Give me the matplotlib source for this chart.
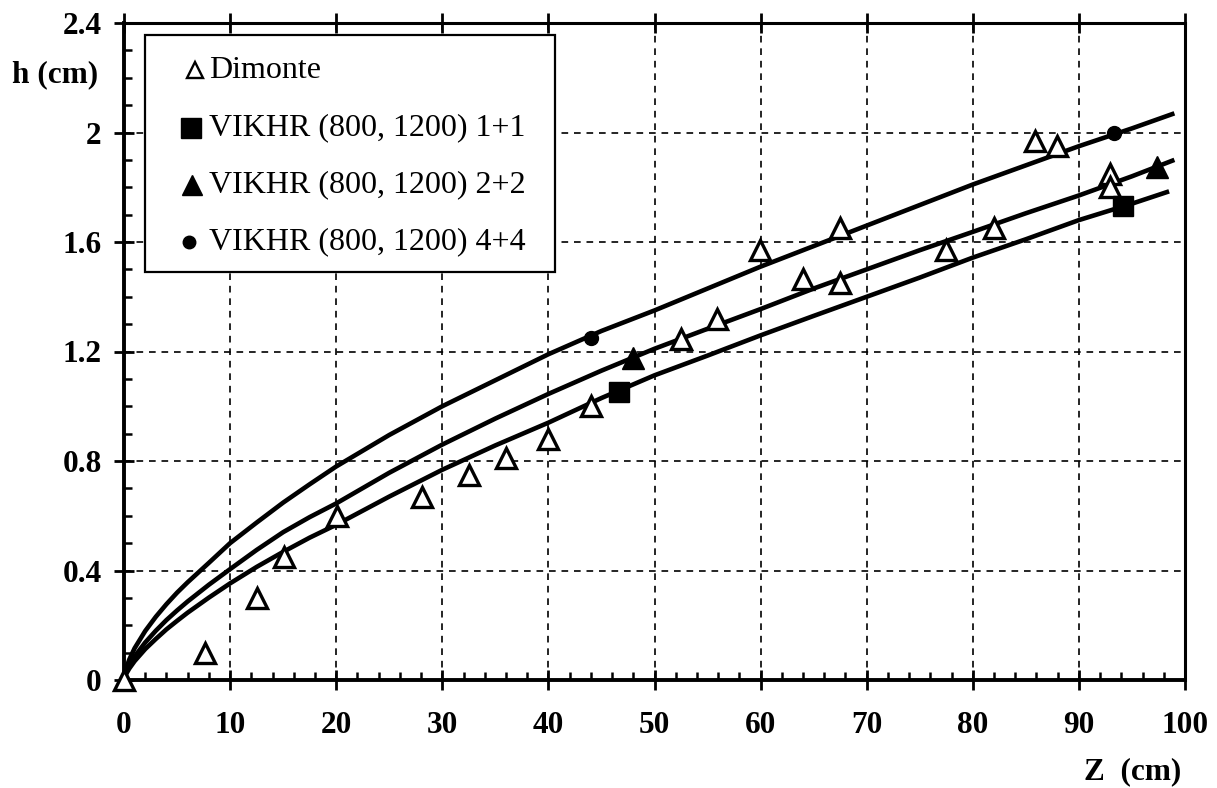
import matplotlib
matplotlib.use("Agg")
import matplotlib.pyplot as plt
from matplotlib.patches import Rectangle
from matplotlib.ticker import MultipleLocator

# ---- data ----
dim_z = [0, 7.6, 12.5, 15.1, 20.1, 28.1, 32.5, 36.0, 40.0, 44.0, 52.5, 55.9, 59.9,
         64.0, 67.5, 67.5, 77.5, 82.0, 85.9, 87.9, 92.9, 92.9]
dim_h = [0, 0.10, 0.30, 0.45, 0.60, 0.67, 0.75, 0.81, 0.88, 1.00, 1.245, 1.32, 1.57,
         1.465, 1.45, 1.65, 1.57, 1.65, 1.97, 1.95, 1.85, 1.80]

v11_z = [46.7, 94.2]
v11_h = [1.053, 1.732]
v22_z = [48.0, 97.4]
v22_h = [1.178, 1.875]
v44_z = [44.0, 93.3]
v44_h = [1.249, 1.998]

top_z = [0, 0.2, 0.5, 1, 2, 3, 4, 5, 6, 8, 10, 12.5, 15, 17.5, 20, 25, 30, 35, 40,
         45, 50, 55, 60, 65, 70, 75, 80, 85, 90, 95, 99]
top_h = [0, 0.042, 0.075, 0.116, 0.179, 0.231, 0.277, 0.319, 0.357, 0.428, 0.50,
         0.575, 0.648, 0.715, 0.78, 0.895, 1.00, 1.095, 1.19, 1.275, 1.35, 1.43,
         1.51, 1.585, 1.66, 1.735, 1.81, 1.88, 1.95, 2.015, 2.07]
mid_z = [0, 0.2, 0.5, 1, 2, 3, 4, 5, 6, 8, 10, 12.5, 15, 17.5, 20, 25, 30, 35, 40,
         45, 50, 55, 60, 65, 70, 75, 80, 85, 90, 95, 99]
mid_h = [0, 0.029, 0.054, 0.086, 0.137, 0.180, 0.219, 0.254, 0.287, 0.348, 0.405,
         0.475, 0.54, 0.595, 0.645, 0.757, 0.86, 0.955, 1.045, 1.13, 1.21, 1.283,
         1.355, 1.43, 1.50, 1.57, 1.637, 1.705, 1.77, 1.84, 1.90]
bot_z = [0, 0.2, 0.5, 1, 2, 3, 4, 5, 6, 8, 10, 12.5, 15, 17.5, 20, 25, 30, 35, 40,
         45, 50, 55, 60, 65, 70, 75, 80, 85, 90, 95, 98.5]
bot_h = [0, 0.022, 0.042, 0.069, 0.113, 0.150, 0.185, 0.216, 0.246, 0.301, 0.353,
         0.413, 0.468, 0.52, 0.567, 0.67, 0.768, 0.857, 0.94, 1.03, 1.113, 1.185,
         1.259, 1.33, 1.40, 1.47, 1.543, 1.61, 1.68, 1.74, 1.785]

x_ticks = [0, 10, 20, 30, 40, 50, 60, 70, 80, 90, 100]
y_ticks = [0, 0.4, 0.8, 1.2, 1.6, 2.0, 2.4]
y_tick_labels = ["0", "0.4", "0.8", "1.2", "1.6", "2", "2.4"]

legend_labels = ["Dimonte", "VIKHR (800, 1200) 1+1",
                 "VIKHR (800, 1200) 2+2", "VIKHR (800, 1200) 4+4"]

# ---- figure ----
W, H = 1217, 788
fig = plt.figure(figsize=(W / 100, H / 100), dpi=100)
ax = fig.add_axes([124 / W, (H - 680) / H, 1061 / W, 657 / H])

serif = "Liberation Serif"
lw_curve = 3.3

for zs, hs in [(top_z, top_h), (mid_z, mid_h), (bot_z, bot_h)]:
    ax.plot(zs, hs, color="black", lw=lw_curve, zorder=3,
            solid_capstyle="butt", solid_joinstyle="round")

ax.plot(dim_z, dim_h, ls="none", marker="^", ms=14, mfc="white", mec="black",
        mew=2.4, zorder=4, clip_on=False)
ax.plot(v11_z, v11_h, ls="none", marker="s", ms=14, mfc="black", mec="black", zorder=5)
ax.plot(v22_z, v22_h, ls="none", marker="^", ms=16, mfc="black", mec="black", zorder=5)
ax.plot(v44_z, v44_h, ls="none", marker="o", ms=10, mfc="black", mec="black", zorder=5)

ax.set_xlim(0, 100)
ax.set_ylim(0, 2.4)

ax.set_xticks(x_ticks)
ax.set_xticklabels([str(v) for v in x_ticks])
ax.set_yticks(y_ticks)
ax.set_yticklabels(y_tick_labels)
ax.xaxis.set_minor_locator(MultipleLocator(2))
ax.yaxis.set_minor_locator(MultipleLocator(0.1))

ax.grid(True, which="major", color="black", lw=1.2, ls=(0, (4, 3.5)), zorder=1)

for side in ["left", "bottom"]:
    ax.spines[side].set_linewidth(2.8)
for side in ["top", "right"]:
    ax.spines[side].set_linewidth(2.2)

ax.tick_params(axis="both", which="major", direction="inout", length=14, width=2.0,
               colors="black")
ax.tick_params(axis="both", which="minor", direction="in", length=6, width=1.8)
ax.tick_params(axis="x", which="major", pad=15, top=True)
ax.tick_params(axis="y", which="major", pad=9)

for lab in ax.get_xticklabels() + ax.get_yticklabels():
    lab.set_fontfamily(serif)
    lab.set_fontweight("bold")
    lab.set_fontsize(22.5)

# axis labels as free text
fig.text(98 / W, 1 - 75 / H, "h (cm)", ha="right", va="center",
         fontfamily=serif, fontweight="bold", fontsize=22.5)
fig.text(1181 / W, 1 - 772 / H, "Z  (cm)", ha="right", va="center",
         fontfamily=serif, fontweight="bold", fontsize=22.5)

# ---- legend (manual box) ----
def ax_x(px):
    return (px - 124) / 1061

def ax_y(py):
    return (680 - py) / 657

box = Rectangle((ax_x(145), ax_y(272)), ax_x(555) - ax_x(145), ax_y(35) - ax_y(272),
                transform=ax.transAxes, facecolor="white", edgecolor="black",
                lw=1.6, zorder=6)
ax.add_patch(box)

rows_py = [70, 128, 185, 242]
marker_specs = [
    dict(marker="^", ms=11, mfc="white", mec="black", mew=1.7, px=195),
    dict(marker="s", ms=14, mfc="black", mec="black", mew=1.0, px=191),
    dict(marker="^", ms=15, mfc="black", mec="black", mew=1.0, px=192),
    dict(marker="o", ms=9, mfc="black", mec="black", mew=1.0, px=189),
]
for py, spec, label in zip(rows_py, marker_specs, legend_labels):
    s = dict(spec)
    px = s.pop("px")
    ax.plot([ax_x(px)], [ax_y(py)], transform=ax.transAxes, ls="none",
            zorder=7, clip_on=False, **s)
    ax.text(ax_x(209), ax_y(py), label, transform=ax.transAxes, ha="left",
            va="center", fontfamily=serif, fontsize=23, zorder=7)

fig.savefig("out.png", dpi=100, facecolor="white")
